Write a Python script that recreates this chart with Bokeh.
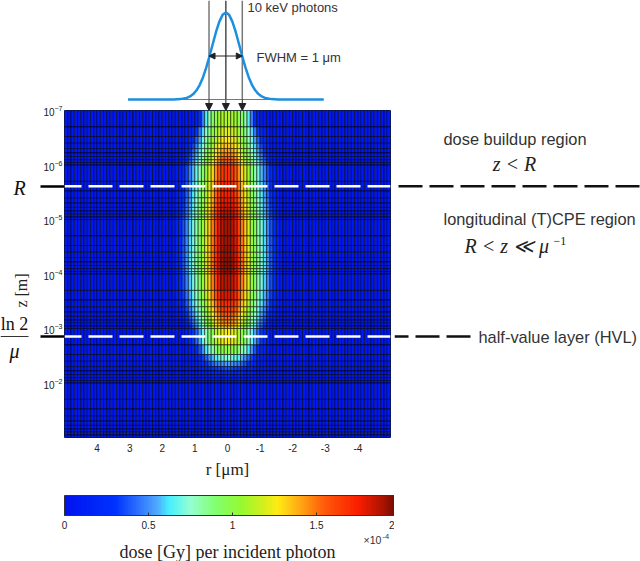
import numpy as np
from bokeh.embed import file_html
from bokeh.layouts import column, row
from bokeh.models import (Arrow, ColorBar, ColumnDataSource, FixedTicker, Label, LinearColorMapper,
                          LogTickFormatter, NormalHead, Range1d, Span)
from bokeh.plotting import figure
from bokeh.resources import INLINE

# ---- data ----
r_edges = [5.0,4.9,4.8,4.7,4.6,4.5,4.4,4.3,4.2,4.1,4.0,3.9,3.8,3.7,3.6,3.5,3.4,3.3,3.2,3.1,
           3.0,2.9,2.8,2.7,2.6,2.5,2.4,2.3,2.2,2.1,2.0,1.9,1.8,1.7,1.6,1.5,1.4,1.3,1.2,1.1,
           1.0,0.9,0.8,0.7,0.6,0.5,0.4,0.3,0.2,0.1,0.0,-0.1,-0.2,-0.3,-0.4,-0.5,-0.6,-0.7,-0.8,-0.9,
           -1.0,-1.1,-1.2,-1.3,-1.4,-1.5,-1.6,-1.7,-1.8,-1.9,-2.0,-2.1,-2.2,-2.3,-2.4,-2.5,-2.6,-2.7,-2.8,-2.9,
           -3.0,-3.1,-3.2,-3.3,-3.4,-3.5,-3.6,-3.7,-3.8,-3.9,-4.0,-4.1,-4.2,-4.3,-4.4,-4.5,-4.6,-4.7,-4.8,-4.9,-5.0]
z_edges = [1e-7,2e-7,3e-7,4e-7,5e-7,6e-7,7e-7,8e-7,9e-7,
           1e-6,2e-6,3e-6,4e-6,5e-6,6e-6,7e-6,8e-6,9e-6,
           1e-5,2e-5,3e-5,4e-5,5e-5,6e-5,7e-5,8e-5,9e-5,
           1e-4,2e-4,3e-4,4e-4,5e-4,6e-4,7e-4,8e-4,9e-4,
           1e-3,2e-3,3e-3,4e-3,5e-3,6e-3,7e-3,8e-3,9e-3,
           1e-2,2e-2,3e-2,4e-2,5e-2,6e-2,7e-2,8e-2,9e-2,1e-1]
far_dose = 6  # hundredths of 1e-4 Gy, outside the plume
# dose per row, from r = 0.05 outwards (hundredths of 1e-4 Gy); mirrored about r = 0
dose_rows = [
 [110,110,106,100,92,80,64,46,28,15,8],
 [120,118,114,107,98,86,74,60,46,32,20,12,8],
 [128,126,121,113,104,92,80,67,54,41,28,18,10,7],
 [135,133,127,118,108,96,84,72,60,47,34,23,14,8],
 [142,139,133,123,112,100,88,76,64,52,40,28,18,10,7],
 [148,145,138,128,116,104,92,80,68,56,44,32,22,13,8],
 [153,150,143,132,120,107,95,83,71,59,47,36,26,16,9],
 [157,154,147,136,123,110,98,86,74,62,50,39,28,18,10,7],
 [161,158,150,139,126,113,100,88,76,64,52,41,30,20,12,7],
 [168,165,157,146,132,118,105,92,80,68,57,46,35,24,14,8],
 [172,169,161,150,136,121,108,95,83,71,60,49,38,27,16,9],
 [175,172,164,153,139,124,110,97,85,73,62,51,40,29,18,10],
 [178,175,167,155,141,126,112,99,87,75,64,53,42,31,20,11,7],
 [181,178,170,158,143,128,114,100,88,76,65,54,43,32,21,12,7],
 [183,180,172,160,145,129,115,101,89,77,66,55,44,33,22,13,7],
 [185,182,174,161,146,130,116,102,90,78,67,56,45,34,23,13,8],
 [186,183,175,162,147,131,117,103,91,79,68,57,46,35,24,14,8],
 [188,185,176,163,148,132,118,104,92,80,69,58,47,36,25,15,8],
 [190,186,178,165,149,133,118,105,93,81,70,59,48,37,26,15,9],
 [191,188,179,166,150,134,119,106,94,82,71,60,49,38,27,16,9],
 [192,189,180,167,151,134,120,106,94,82,71,60,49,38,27,16,9],
 [192,189,180,167,151,135,120,107,95,83,72,61,50,39,28,17,9],
 [193,190,181,168,152,135,120,107,95,83,72,61,50,39,28,17,10],
 [193,190,181,168,152,135,121,107,95,83,72,61,50,39,28,17,10],
 [193,190,181,168,152,136,121,108,95,83,72,61,50,39,28,17,10],
 [192,189,180,167,151,135,120,107,95,83,72,61,50,39,28,17,10],
 [192,189,180,167,151,135,120,107,94,82,71,60,49,38,27,16,9],
 [188,185,177,164,149,133,118,105,92,80,69,58,47,36,25,15,9],
 [182,179,171,159,144,129,114,101,89,77,66,55,44,33,22,13,8],
 [172,169,162,151,137,123,109,96,84,72,61,50,39,28,18,10,7],
 [165,162,155,145,132,118,104,92,80,68,57,46,35,24,15,8],
 [158,155,149,139,127,113,100,88,76,64,53,42,31,21,12,7],
 [152,149,143,134,122,109,96,84,72,60,49,38,27,17,10],
 [147,144,138,129,118,105,93,81,69,57,46,35,24,14,8],
 [142,139,134,125,114,102,90,78,66,54,43,32,21,12,7],
 [137,134,129,120,110,98,86,74,62,50,39,28,18,10],
 [125,122,118,110,100,90,78,66,54,42,32,22,14,9],
 [102,100,96,90,82,72,62,50,38,28,19,12,8],
 [72,71,68,63,57,50,42,33,24,16,10,7],
 [52,51,49,46,41,36,30,23,17,11,8],
 [36,35,34,32,29,25,21,16,12,9,7],
 [25,24,24,22,20,18,15,12,9,7],
 [18,17,17,16,15,13,11,9,7],
 [13,13,12,12,11,10,9,8,7],
 [10,10,10,9,9,8,8,7],
 [8,8,8,7,7], [7,7,7], [6], [6], [6], [6], [6], [6], [6],
]
beam_r = [3.05,1.65,1.45,1.25,1.15,1.05,0.95,0.85,0.75,0.65,0.55,0.45,0.35,0.25,0.15,0.05,
          -0.05,-0.15,-0.25,-0.35,-0.45,-0.55,-0.65,-0.75,-0.85,-0.95,-1.05,-1.15,-1.35,-1.55,-2.95]
beam_i = [0,0.0008,0.0044,0.0185,0.035,0.0625,0.106,0.169,0.257,0.369,0.5,0.641,0.779,0.895,0.973,1,
          0.973,0.895,0.779,0.641,0.5,0.369,0.257,0.169,0.106,0.0625,0.035,0.0185,0.0044,0.0008,0]
beam_marks_r = [0.567, 0.05, -0.454]
z_R = 2.45e-6
z_HVL = 1.4e-3
cbar_ticks = [0, 0.5, 1, 1.5, 2]
r_ticks = [4, 3, 2, 1, 0, -1, -2, -3, -4]
z_ticks = [1e-7, 1e-6, 1e-5, 1e-4, 1e-3, 1e-2]

# ---- colour map ----
stops = [0, .3, .45, .55, .62, .75, .9, 1.05, 1.18, 1.27, 1.4, 1.55, 1.75, 1.9, 2]
rgb = [(0,20,240),(0,50,255),(50,120,255),(80,170,255),(70,240,255),(150,255,210),(130,255,110),
       (150,250,50),(210,240,30),(255,235,20),(255,170,20),(255,90,10),(250,30,0),(170,20,0),(90,10,0)]
vals = np.linspace(0, 2, 256)
palette = ["#%02x%02x%02x" % tuple(int(np.interp(v, stops, [c[i] for c in rgb])) for i in range(3)) for v in vals]
mapper = LinearColorMapper(palette=palette, low=0, high=2)

SANS = "Liberation Sans"
SERIF = "Liberation Serif"
LEFT_W = 34
AXIS_W = 48
COL_X = 16   # page position of the left edge of the centre column

def text(fig, x0, y0, px, py, s, size=14, font=SANS, style="normal", align="left", color="#333333", angle=0):
    fig.add_layout(Label(x=px - x0, y=py - y0, x_units="canvas", y_units="canvas", text=s,
                         text_font=font, text_font_style=style, text_font_size=f"{size}px",
                         text_color=color, text_align=align, text_baseline="middle", angle=angle))

# ---- heat map figure ----
x_range = Range1d(5, -5)
y_range = Range1d(1e-1, 1e-7)
main = figure(frame_width=326, frame_height=327, x_range=x_range, y_range=y_range, y_axis_type="log",
              toolbar_location=None, output_backend="svg", min_border_left=AXIS_W, min_border_right=4,
              min_border_top=10, min_border_bottom=43, border_fill_color=None, margin=(-10, 0, 0, 0))
left, right_, bottom, top, colour = [], [], [], [], []
for j, vals_row in enumerate(dose_rows):
    half = list(vals_row) + [far_dose] * (50 - len(vals_row))
    full = half[::-1] + half
    for i, v in enumerate(full):
        left.append(r_edges[i]); right_.append(r_edges[i + 1])
        top.append(z_edges[j]); bottom.append(z_edges[j + 1]); colour.append(v / 100)
src = ColumnDataSource(dict(left=left, right=right_, top=top, bottom=bottom, dose=colour))
main.quad(left="left", right="right", top="top", bottom="bottom", source=src,
          fill_color={"field": "dose", "transform": mapper}, line_color="black", line_width=0.7, line_alpha=0.8)
main.grid.visible = False
main.outline_line_color = "#1a2560"
main.xaxis.ticker = FixedTicker(ticks=r_ticks)
main.xaxis.major_label_overrides = {-1: "-1", -2: "-2", -3: "-3", -4: "-4"}
main.yaxis.ticker = FixedTicker(ticks=z_ticks, minor_ticks=[z_R, z_HVL])
main.yaxis.formatter = LogTickFormatter()
main.xaxis.axis_label = "r [μm]"
for ax in (main.xaxis[0], main.yaxis[0]):
    ax.axis_line_color = None
    ax.major_tick_line_color = None
    ax.minor_tick_line_color = None
    ax.major_label_text_font = SANS
    ax.major_label_text_font_size = "10px"
    ax.major_label_text_color = "#222222"
    ax.axis_label_text_font = SERIF
    ax.axis_label_text_font_style = "normal"
    ax.axis_label_text_font_size = "17px"
    ax.axis_label_text_color = "#222222"
main.xaxis[0].major_label_standoff = 0
main.yaxis[0].major_label_standoff = -22
main.xaxis[0].axis_label_standoff = 5
main.yaxis[0].minor_tick_line_color = "black"
main.yaxis[0].minor_tick_line_width = 2.5
main.yaxis[0].minor_tick_out = 24
main.yaxis[0].minor_tick_in = 0

for z in (z_R, z_HVL):
    main.add_layout(Span(location=z, dimension="width", line_color="white", line_width=2.5,
                         line_dash="24 7", line_dash_offset=7))

# ---- colour bar strip ----
bottom_fig = figure(frame_width=326, frame_height=81, x_range=x_range, y_range=Range1d(0, 1),
                    toolbar_location=None, output_backend="svg", min_border_left=AXIS_W, min_border_right=4,
                    min_border_top=0, min_border_bottom=0, x_axis_location=None, y_axis_location=None,
                    outline_line_color=None, border_fill_color=None)
bottom_fig.grid.visible = False
cbar = ColorBar(color_mapper=mapper, ticker=FixedTicker(ticks=cbar_ticks), width=336, height=20,
                orientation="horizontal",
                padding=0, margin=0, location=(0, 31), major_tick_in=3, major_tick_out=0,
                major_tick_line_color="#333333", major_label_text_font=SANS, major_label_text_font_size="10px",
                major_label_text_color="#222222", bar_line_color="#333333", label_standoff=5)
bottom_fig.add_layout(cbar, "center")
text(bottom_fig, COL_X, 480, 227, 550, "dose [Gy] per incident photon", 18, SERIF, "normal", "center", "#222222")
text(bottom_fig, COL_X, 480, 363, 538, "×10", 10.5, SANS, "normal", "left", "#333333")
text(bottom_fig, COL_X, 480, 382, 535, "-4", 7.5, SANS, "normal", "left", "#333333")

# ---- beam profile ----
top_fig = figure(frame_width=326, frame_height=110, x_range=x_range, y_range=Range1d(-0.1264, 1.138),
                 toolbar_location=None, output_backend="svg", min_border_left=AXIS_W, min_border_right=4,
                 min_border_top=0, min_border_bottom=0, x_axis_location=None, y_axis_location=None,
                 outline_line_color=None, border_fill_color=None)
top_fig.grid.visible = False
for i, rv in enumerate(beam_marks_r):
    top_fig.line([rv, rv], [0, 1.138], line_color="#222222" if i == 1 else "#777777",
                 line_width=1.2 if i == 1 else 1.5)
    top_fig.add_layout(Arrow(end=NormalHead(size=7, fill_color="#222222", line_color="#222222"),
                             x_start=rv, y_start=0, x_end=rv, y_end=-0.1264,
                             line_color="#222222", line_width=1))
top_fig.line([beam_r[0], beam_r[-1]], [0, 0], line_color="#777777", line_width=1)
top_fig.line(beam_r, beam_i, line_color="#1b8fe0", line_width=2.5)
top_fig.add_layout(Arrow(start=NormalHead(size=6, fill_color="#222222", line_color="#222222"),
                         end=NormalHead(size=6, fill_color="#222222", line_color="#222222"),
                         x_start=beam_marks_r[0], y_start=0.5, x_end=beam_marks_r[2], y_end=0.5,
                         line_color="#222222", line_width=1))
text(top_fig, COL_X, 0, 247, 7, "10 keV photons", 13)
text(top_fig, COL_X, 0, 256, 57, "FWHM = 1 μm", 13)

# ---- symbols at left ----
left_fig = figure(width=LEFT_W, height=561, x_range=Range1d(0, LEFT_W), y_range=Range1d(561, 0),
                  toolbar_location=None, output_backend="svg", min_border_left=0, min_border_right=0,
                  min_border_top=0, min_border_bottom=0,
                  x_axis_location=None, y_axis_location=None, outline_line_color=None)
left_fig.grid.visible = False
text(left_fig, 0, 0, 19, 187, "R", 20, SERIF, "italic", "center", "#111111")
text(left_fig, 0, 0, 14, 323, "ln 2", 18, SERIF, "normal", "center", "#111111")
text(left_fig, 0, 0, 14, 350, "μ", 20, SERIF, "italic", "center", "#111111")
text(left_fig, 0, 0, 21, 290, "z [m]", 16, SERIF, "normal", "center", "#222222", angle=1.5708)
left_fig.add_layout(Arrow(end=None, start_units="canvas", end_units="canvas", x_start=0, y_start=336,
                          x_end=28, y_end=336, line_color="#333333", line_width=1))

# ---- region notes at right ----
right_fig = figure(frame_width=246, frame_height=327, x_range=Range1d(394, 640), y_range=y_range, y_axis_type="log",
                   toolbar_location=None, output_backend="svg", min_border_left=0, min_border_right=0,
                   min_border_top=110, min_border_bottom=124, x_axis_location=None, y_axis_location=None,
                   outline_line_color=None)
right_fig.grid.visible = False
right_fig.add_layout(Span(location=z_R, dimension="width", line_color="#111111", line_width=2.5,
                          line_dash="24 7", line_dash_offset=27))
right_fig.line([394, 471], [z_HVL, z_HVL], line_color="#111111", line_width=2.5, line_dash="24 7", line_dash_offset=10)
text(right_fig, 394, 0, 443, 138, "dose buildup region", 16.4)
text(right_fig, 394, 0, 514, 163, "z < R", 20, SERIF, "italic", "center", "#222222")
text(right_fig, 394, 0, 443, 218, "longitudinal (T)CPE region", 16.4)
text(right_fig, 394, 0, 464, 245, "R < z ≪ μ", 20, SERIF, "italic", "left", "#222222")
text(right_fig, 394, 0, 553, 240, "−1", 12, SERIF, "normal", "left", "#222222")
text(right_fig, 394, 0, 478, 336, "half-value layer (HVL)", 16.4)

middle = column(top_fig, main, bottom_fig, spacing=0, margin=(0, 0, 0, -18))
layout = row(left_fig, middle, right_fig, spacing=0)
open("out.html", "w").write(file_html(layout, INLINE))
